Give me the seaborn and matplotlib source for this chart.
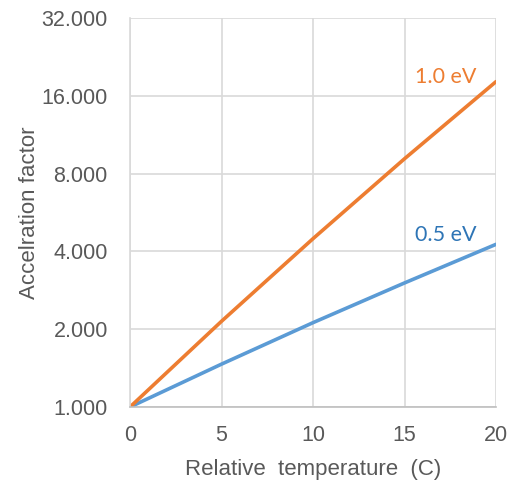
import matplotlib
matplotlib.use("Agg")
import matplotlib.pyplot as plt
import seaborn as sns
import pandas as pd
from matplotlib.ticker import FixedLocator, FixedFormatter

# Dados
temp_rel = [0, 5, 10, 15, 20]
fator_05ev = [1.0, 1.465, 2.12, 3.02, 4.26]
fator_10ev = [1.0, 2.146, 4.48, 9.13, 18.15]
y_ticks = [1, 2, 4, 8, 16, 32]
y_labels = ["1.000", "2.000", "4.000", "8.000", "16.000", "32.000"]
x_ticks = [0, 5, 10, 15, 20]

df = pd.DataFrame({
    "temp": temp_rel * 2,
    "fator": fator_05ev + fator_10ev,
    "Ea": ["0.5 eV"] * len(temp_rel) + ["1.0 eV"] * len(temp_rel),
})

cores = {"0.5 eV": "#5B9BD5", "1.0 eV": "#ED7D31"}

sns.set_style("white")
plt.rcParams["font.family"] = ["Liberation Sans", "DejaVu Sans"]

fig = plt.figure(figsize=(5.14, 4.84), dpi=100)
ax = fig.add_axes([130 / 514, 1 - 407 / 484, 366 / 514, 389 / 484])

sns.lineplot(data=df, x="temp", y="fator", hue="Ea", palette=cores,
             linewidth=2.6, legend=False, ax=ax)

ax.set_yscale("log", base=2)
ax.set_ylim(1, 32)
ax.set_xlim(0, 20)
ax.yaxis.set_major_locator(FixedLocator(y_ticks))
ax.yaxis.set_major_formatter(FixedFormatter(y_labels))
ax.yaxis.set_minor_locator(FixedLocator([]))
ax.set_xticks(x_ticks)

ax.grid(True, color="#D9D9D9", linewidth=1.2)
ax.set_axisbelow(True)
for s in ["top", "right"]:
    ax.spines[s].set_visible(False)
ax.spines["left"].set_color("#D9D9D9")
ax.spines["bottom"].set_color("#BFBFBF")
ax.spines["left"].set_linewidth(1.2)
ax.spines["bottom"].set_linewidth(1.2)

ax.tick_params(axis="both", length=0, labelsize=15.5, colors="#595959")
ax.tick_params(axis="x", pad=13)
ax.tick_params(axis="y", pad=16)

ax.set_xlabel("Relative  temperature  (C)", fontsize=16, color="#595959", labelpad=9)
ax.set_ylabel("Accelration factor", fontsize=16, color="#595959", labelpad=1)

ax.text(17.27, 18.9, "1.0 eV", color="#ED7D31", fontsize=15.5,
        family=["Lato", "DejaVu Sans"], ha="center", va="center")
ax.text(17.27, 4.61, "0.5 eV", color="#2E75B6", fontsize=15.5,
        family=["Lato", "DejaVu Sans"], ha="center", va="center")

fig.savefig("out.png", dpi=100)
